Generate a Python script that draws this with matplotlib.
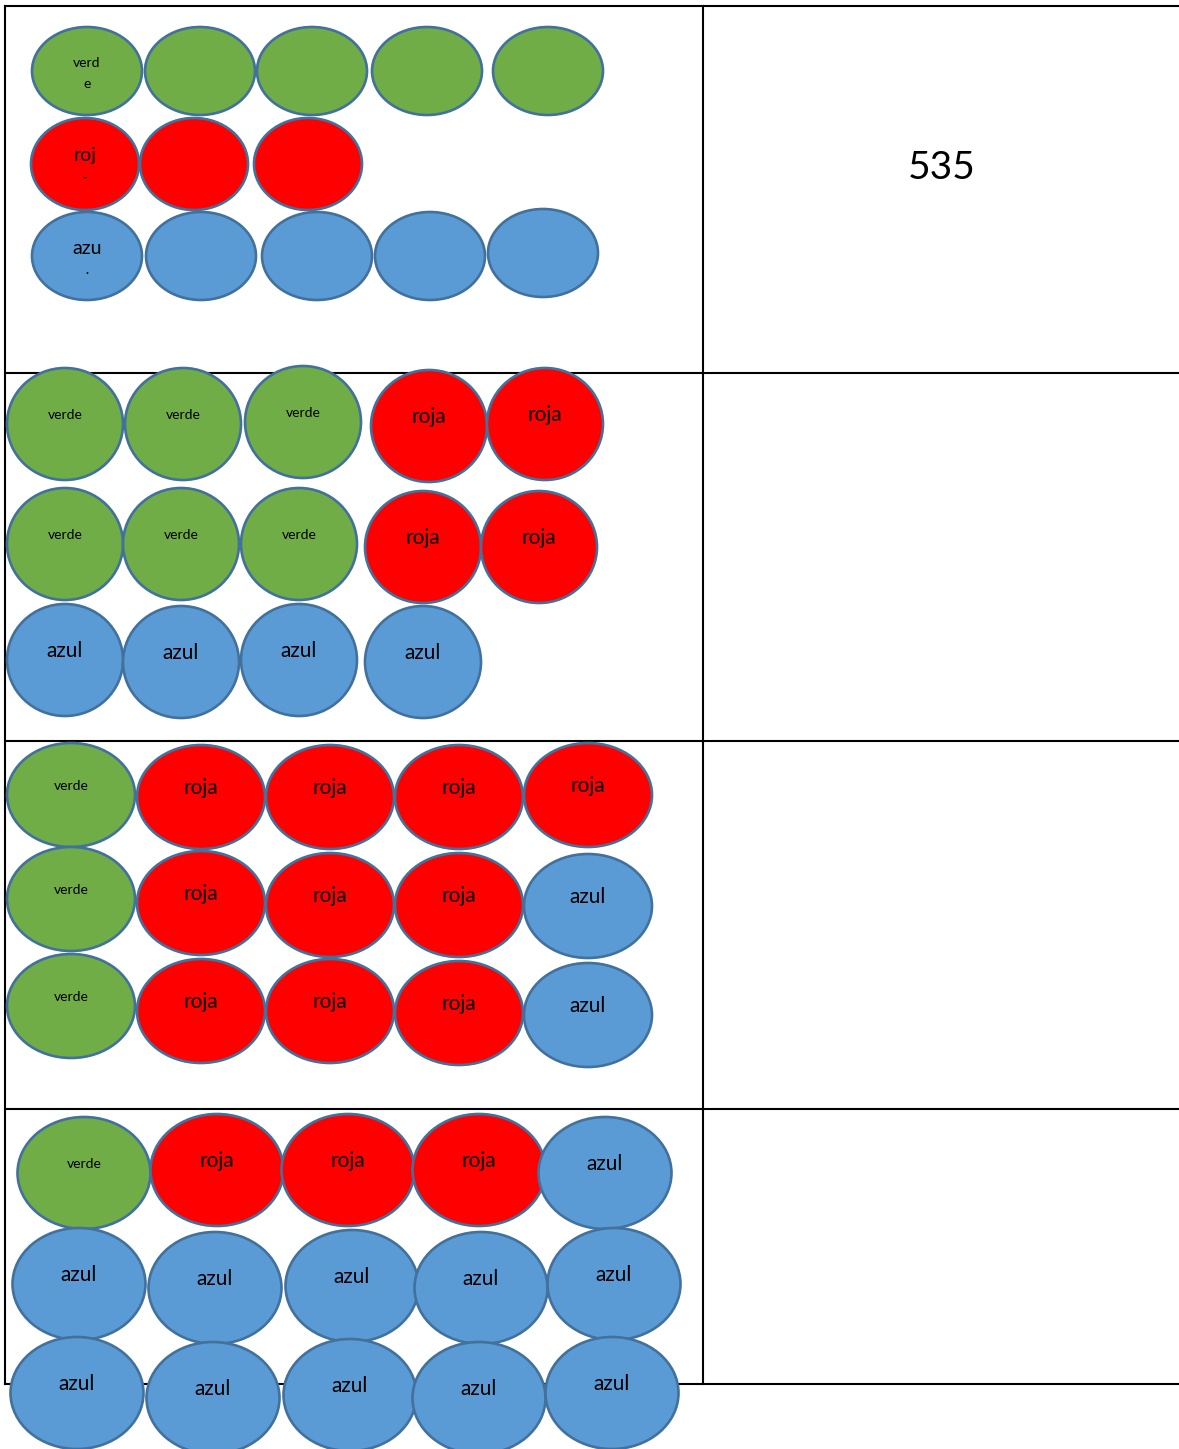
"""Worksheet table with coloured counters (verde / roja / azul)."""

import matplotlib

matplotlib.use("Agg")
import matplotlib.pyplot as plt
from matplotlib.patches import Ellipse

# colour of every counter, row by row, one list per table cell
panel_rows = [
    [["verde"] * 5, ["roja"] * 3, ["azul"] * 5],
    [["verde"] * 3 + ["roja"] * 2, ["verde"] * 3 + ["roja"] * 2, ["azul"] * 4],
    [["verde"] + ["roja"] * 4, ["verde"] + ["roja"] * 3 + ["azul"], ["verde"] + ["roja"] * 3 + ["azul"]],
    [["verde"] + ["roja"] * 3 + ["azul"], ["azul"] * 5, ["azul"] * 5],
]
# first cell only names the first counter of each row, and the words wrap
first_cell_text = [["verd\ne", "", "", "", ""], ["roj\n-", "", ""], ["azu\n.", "", "", "", ""]]
answers = ["535", "", "", ""]

fills = {"verde": "#70AD47", "roja": "#FF0000", "azul": "#5B9BD5"}
text_size = {"verde": 10, "roja": 15, "azul": 15}

# layout in pixels (centres per row, counter size per cell)
layout = [
    dict(xs=[[87, 200, 312, 427, 548], [85, 194, 308], [87, 201, 317, 430, 543]],
         ys=[[71] * 5, [164] * 3, [256, 256, 256, 256, 253]], w=110, h=88),
    dict(xs=[[65, 183, 303, 429, 545], [65, 181, 299, 423, 539], [65, 181, 299, 423]],
         ys=[[424, 424, 422, 426, 424], [544, 544, 544, 547, 547], [660, 662, 660, 662]], w=116, h=112),
    dict(xs=[[71, 201, 330, 459, 588]] * 3,
         ys=[[795, 797, 797, 797, 795], [899, 903, 905, 905, 906], [1006, 1011, 1011, 1013, 1015]],
         w=128, h=104),
    dict(xs=[[84, 217, 348, 479, 605], [79, 215, 352, 481, 614], [77, 213, 350, 479, 612]],
         ys=[[1173, 1170, 1170, 1170, 1173], [1284, 1288, 1286, 1288, 1284], [1393, 1398, 1395, 1398, 1393]],
         w=133, h=112),
]
row_lines = [6, 373, 741, 1109, 1384]
col_left, col_mid, col_right = 5, 703, 1179

fig = plt.figure(figsize=(11.79, 14.49), dpi=100)
ax = fig.add_axes([0, 0, 1, 1])
ax.set_xlim(0, 1179)
ax.set_ylim(1449, 0)
ax.axis("off")

# table grid
for y in row_lines:
    ax.plot([col_left, col_right], [y, y], color="black", lw=1.5, zorder=1)
for x in (col_left, col_mid):
    ax.plot([x, x], [row_lines[0], row_lines[-1]], color="black", lw=1.5, zorder=1)

for p, rows in enumerate(panel_rows):
    lay = layout[p]
    for r, row in enumerate(rows):
        for c, name in enumerate(row):
            cx, cy = lay["xs"][r][c], lay["ys"][r][c]
            w, h = lay["w"], lay["h"]
            if p == 0 and name == "roja":
                w, h = 108, 92
            ax.add_patch(Ellipse((cx, cy), w, h, facecolor=fills[name],
                                 edgecolor="#41719C", lw=1.9, zorder=2))
            label = first_cell_text[r][c] if p == 0 else name
            if not label:
                continue
            if p == 0:
                top, bottom = label.split("\n")
                size = 10 if name == "verde" else 14
                ax.text(cx, cy - 8, top, ha="center", va="center", fontsize=size,
                        family="Lato", zorder=3)
                if name == "verde":
                    ax.text(cx, cy + 13, bottom, ha="center", va="center", fontsize=10,
                            family="Lato", zorder=3)
                else:
                    ax.text(cx, cy + 14, bottom, ha="center", va="center", fontsize=9,
                            family="Lato", fontweight="bold", zorder=3)
            else:
                ax.text(cx, cy - 9, label, ha="center", va="center", fontsize=text_size[name],
                        family="Lato", zorder=3)

    if answers[p]:
        ax.text(942, 168, answers[p], ha="center", va="center", fontsize=28,
                family="Lato", zorder=3)

fig.savefig("out.png", dpi=100)
plt.close(fig)
